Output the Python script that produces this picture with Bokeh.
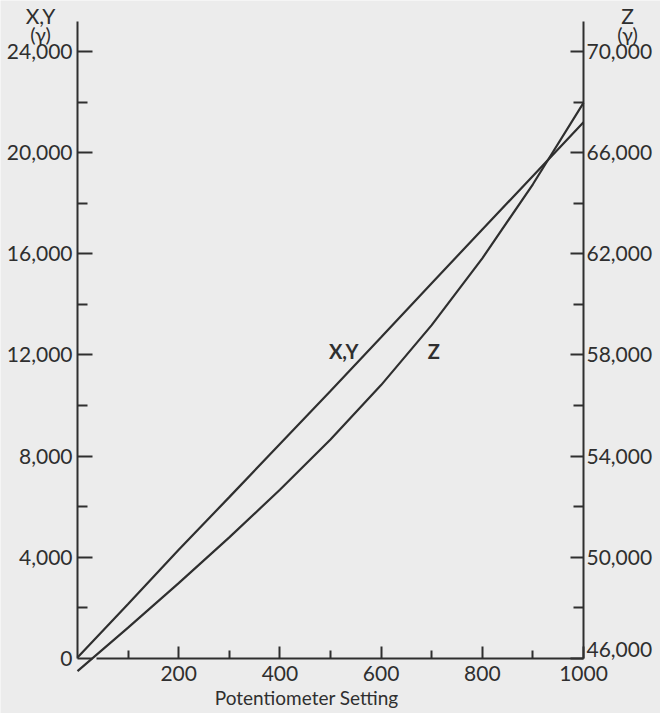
from bokeh.plotting import figure
from bokeh.models import Range1d, LinearAxis, FixedTicker, Label, NumeralTickFormatter
from bokeh.embed import file_html
from bokeh.resources import INLINE

# ---- data ----
pot = [0, 100, 200, 300, 400, 500, 600, 700, 800, 900, 1000]
xy_gamma = [40, 2150, 4300, 6380, 8480, 10580, 12700, 14840, 16960, 19080, 21200]
z_gamma = [45500, 47220, 48980, 50790, 52670, 54660, 56810, 59180, 61820, 64750, 67970]

left_major = [0, 4000, 8000, 12000, 16000, 20000, 24000]
left_minor = [2000, 6000, 10000, 14000, 18000, 22000]
right_major = [46000, 50000, 54000, 58000, 62000, 66000, 70000]
right_minor = [48000, 52000, 56000, 60000, 64000, 68000]
x_major = [200, 400, 600, 800, 1000]
x_minor = [100, 300, 500, 700, 900]

Z_OFFSET = 46000
# frame covers the whole canvas; axes are pinned inside it
X0, X1 = -152.2, 1152.2
Y0, Y1 = -2175, 26016
AXIS_TOP = 25186

FONT = "Lato"
INK = "#2f2f2f"
BG = "#ececec"

p = figure(width=660, height=713,
           x_range=Range1d(X0, X1), y_range=Range1d(Y0, Y1),
           output_backend="svg", toolbar_location=None,
           min_border_left=0, min_border_right=0,
           min_border_top=0, min_border_bottom=0)
p.extra_y_ranges = {"z": Range1d(Y0 + Z_OFFSET, Y1 + Z_OFFSET)}

p.background_fill_color = BG
p.border_fill_color = BG
p.outline_line_color = None
p.grid.visible = False

# x axis, pinned at y = 0
xa = p.xaxis[0]
xa.fixed_location = 0
xa.bounds = (38, 1000)
xa.ticker = FixedTicker(ticks=x_major, minor_ticks=x_minor)

# left axis, pinned at x = 0
ya = p.yaxis[0]
ya.fixed_location = 0
ya.bounds = (0, AXIS_TOP)
ya.ticker = FixedTicker(ticks=left_major, minor_ticks=left_minor)
ya.formatter = NumeralTickFormatter(format="0,0")

# right axis, pinned at x = 1000
ra = LinearAxis(y_range_name="z", fixed_location=1000,
                bounds=(Z_OFFSET, AXIS_TOP + Z_OFFSET),
                ticker=FixedTicker(ticks=right_major, minor_ticks=right_minor),
                formatter=NumeralTickFormatter(format="0,0"))
ra.major_label_overrides = {right_major[0]: ""}
p.add_layout(ra, "right")

for ax in (xa, ya, ra):
    ax.axis_line_color = INK
    ax.axis_line_width = 2
    ax.major_tick_line_color = INK
    ax.minor_tick_line_color = INK
    ax.major_tick_line_width = 2
    ax.minor_tick_line_width = 2
    ax.major_tick_out = 0
    ax.minor_tick_out = 0
    ax.major_label_text_font = FONT
    ax.major_label_text_font_size = "21px"
    ax.major_label_text_color = INK

xa.major_tick_in = 12
xa.minor_tick_in = 8
xa.major_label_standoff = 8

ya.major_tick_in = 15
ya.minor_tick_in = 10
ya.major_label_standoff = 5

ra.major_tick_in = 13
ra.minor_tick_in = 10
ra.major_label_standoff = 3

# x axis title (sits left of the axis centre in the original)
p.add_layout(Label(x=453, y=-1560, text="Potentiometer Setting", text_font=FONT,
                   text_font_size="19px", text_color=INK,
                   text_align="center", text_baseline="middle"))

# bottom right-axis label sits a little above its tick, as in the original
p.add_layout(Label(x=1000, y=356, x_offset=3, text="46,000", text_font=FONT,
                   text_font_size="21px", text_color=INK,
                   text_align="left", text_baseline="middle"))

# curves
p.line(pot, xy_gamma, line_color=INK, line_width=2.2)
p.line(pot, [v - Z_OFFSET for v in z_gamma], line_color=INK, line_width=2.2)

# series labels
p.add_layout(Label(x=526, y=12140, text="X,Y", text_font=FONT, text_font_size="20px",
                   text_font_style="bold", text_color=INK,
                   text_align="center", text_baseline="middle"))
p.add_layout(Label(x=704, y=12140, text="Z", text_font=FONT, text_font_size="20px",
                   text_font_style="bold", text_color=INK,
                   text_align="center", text_baseline="middle"))

# axis headers
for xx, t1 in ((-73, "X,Y"), (1087, "Z")):
    p.add_layout(Label(x=xx, y=25420, text=t1, text_font=FONT, text_font_size="21px",
                       text_color=INK, text_align="center", text_baseline="middle"))
    p.add_layout(Label(x=xx, y=24700, text="(γ)", text_font=FONT, text_font_size="20px",
                       text_color=INK, text_align="center", text_baseline="middle"))

open("out.html", "w").write(file_html(p, INLINE))
